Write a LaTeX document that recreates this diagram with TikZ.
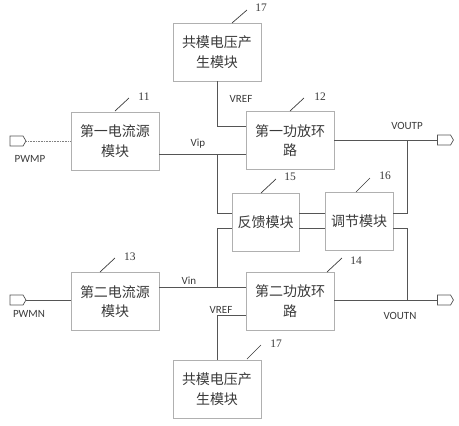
\documentclass[tikz,border=0pt]{standalone}
\usepackage{fontspec}
\setmainfont{Liberation Serif}
\newfontfamily\cjk{Noto Sans CJK SC}
\newfontfamily\lab{Carlito}
\usetikzlibrary{shapes.symbols,calc}
\definecolor{wire}{HTML}{555555}
\definecolor{boxline}{HTML}{B0B0B0}
\definecolor{txt}{HTML}{3A3A3A}
\tikzset{
  blk/.style={draw=boxline, line width=0.7pt, fill=white, inner sep=0pt,
    align=center, text=txt, font=\cjk\fontsize{14}{19.5}\selectfont},
  wide/.style={minimum width=88pt, minimum height=58pt},
  narrow/.style={minimum width=67pt, minimum height=58pt},
  wirel/.style={draw=wire, line width=0.8pt},
  sig/.style={text=txt, font=\lab\fontsize{11}{12}\selectfont, inner sep=0pt},
  num/.style={text=txt, font=\fontsize{11.5}{12}\selectfont, inner sep=0pt},
  tick/.style={draw=txt, line width=0.7pt},
  port/.style={draw=wire, line width=0.7pt, fill=white, signal, signal to=east,
    minimum width=16pt, minimum height=10pt, inner sep=0pt, signal pointer angle=120}
}
\begin{document}
\begin{tikzpicture}[x=1pt,y=-1pt]
\useasboundingbox (0,0) rectangle (459,426);
% blocks
\node[blk,wide] (cm1) at (217,52) {共模电压产\\生模块};
\node[blk,wide] (cs1) at (115,141) {第一电流源\\模块};
\node[blk,wide] (pa1) at (290,140.5) {第一功放环\\路};
\node[blk,narrow] (fb) at (265.5,222) {反馈模块};
\node[blk,narrow,minimum width=68pt] (adj) at (359,221) {调节模块};
\node[blk,wide] (cs2) at (115,301.5) {第二电流源\\模块};
\node[blk,wide] (pa2) at (290,301) {第二功放环\\路};
\node[blk,wide] (cm2) at (217,389) {共模电压产\\生模块};
% ports
\node[port] (pwmp) at (16.5,141) {};
\node[port] (pwmn) at (16.5,300) {};
\node[port] (voutp) at (444,140) {};
\node[port] (voutn) at (444,300) {};
% junction coordinates
\coordinate (jp) at (217,154);
\coordinate (jn) at (217,287);
\coordinate (jop) at (407,140);
\coordinate (jon) at (407,300);
% wires
\draw[densely dotted, draw=gray, line width=0.6pt] (pwmp.east) -- (pwmp.east -| cs1.west);
\draw[wirel] (pwmn.east) -- (pwmn.east -| cs2.west);
\draw[wirel] (cm1.south) |- ([yshift=14.5pt]pa1.west);
\draw[wirel] (jp -| cs1.east) -- (jp -| pa1.west);
\draw[wirel] (jp) |- ([yshift=9pt]fb.west);
\draw[wirel] (jn) |- ([yshift=-6pt]fb.west);
\draw[wirel] ([yshift=9pt]fb.east) -- ([yshift=9pt]fb.east -| adj.west);
\draw[wirel] ([yshift=-6pt]fb.east) -- ([yshift=-6pt]fb.east -| adj.west);
\draw[wirel] ([yshift=8pt]adj.east) -| (jop);
\draw[wirel] ([yshift=-7pt]adj.east) -| (jon);
\draw[wirel] (jop -| pa1.east) -- (voutp.west);
\draw[wirel] (jon -| pa2.east) -- (voutn.west);
\draw[wirel] (jn -| cs2.east) -- (jn -| pa2.west);
\draw[wirel] ([yshift=-14pt]pa2.west) -| (cm2.north);
% signal labels
\node[sig] (lvrefa) at (241,99) {VREF};
\node[sig] (lvip) at (198,144) {Vip};
\node[sig] (lvoutp) at (407,126) {VOUTP};
\node[sig] (lpwmp) at (30,159) {PWMP};
\node[sig] (lvin) at (189,281) {Vin};
\node[sig] (lvrefb) at (221,310) {VREF};
\node[sig] (lpwmn) at (29,314) {PWMN};
\node[sig] (lvoutn) at (400,316) {VOUTN};
% reference numbers with leader ticks
\node[num] (n17a) at (261,8) {17};
\draw[tick] (232,23) -- (247,10);
\node[num] (n11) at (144,97) {11};
\draw[tick] (115,111) -- (129,98);
\node[num] (n12) at (320,97) {12};
\draw[tick] (290,111) -- (304,98);
\node[num] (n15) at (290,177) {15};
\draw[tick] (261,193) -- (276,179);
\node[num] (n16) at (385,176) {16};
\draw[tick] (356,192) -- (370,178);
\node[num] (n13) at (130,257) {13};
\draw[tick] (100,272) -- (115,258);
\node[num] (n14) at (356,261) {14};
\draw[tick] (327,272) -- (342,258);
\node[num] (n17b) at (276,344) {17};
\draw[tick] (247,359) -- (261,345);
\end{tikzpicture}
\end{document}
